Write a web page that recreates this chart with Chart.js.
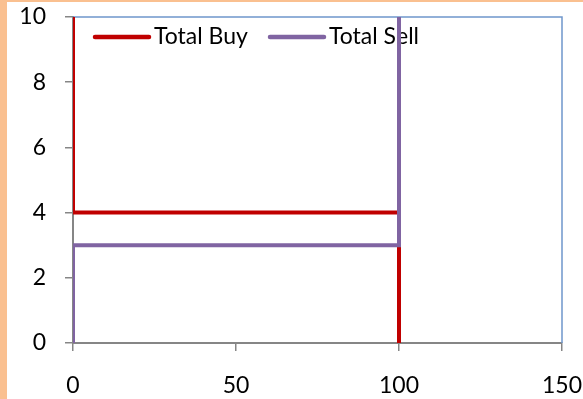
<!DOCTYPE html>
<html>
<head>
<meta charset="utf-8">
<script src="https://cdn.jsdelivr.net/npm/chart.js@4"></script>
<style>
  html, body { margin: 0; padding: 0; background: #fff; }
  canvas { display: block; }
</style>
</head>
<body>
<canvas id="grafico" width="583" height="399"></canvas>
<script>
// dados
const series = ['Total Buy', 'Total Sell'];
const buyX = [0, 0, 100, 100];
const buyY = [10, 4, 4, 0];
const sellX = [0, 0, 100, 100];
const sellY = [0, 3, 3, 10];
const xTicks = [0, 50, 100, 150];
const yTicks = [0, 2, 4, 6, 8, 10];

const cores = ['#c00000', '#8064a2'];
const fonte = { family: 'Lato', size: 23 };

// moldura laranja + borda azul do plot + legenda dentro do plot
const moldura = {
    id: 'moldura',
    beforeDraw(chart) {
        const c = chart.ctx;
        c.save();
        c.fillStyle = '#fff';
        c.fillRect(0, 0, chart.width, chart.height);
        c.fillStyle = '#fac090';
        c.fillRect(0, 0, 7, chart.height);
        c.fillRect(0, 0, chart.width, 2);
        c.restore();
    },
    beforeDatasetsDraw(chart) {
        const c = chart.ctx;
        const a = chart.chartArea;
        c.save();
        c.strokeStyle = '#6f97cc';
        c.lineWidth = 1.5;
        c.beginPath();
        c.moveTo(a.left, a.top);
        c.lineTo(a.right, a.top);
        c.lineTo(a.right, a.bottom);
        c.stroke();

        // legenda
        const posicoes = [a.left + 22, a.left + 197];
        const y = a.top + 20;
        c.font = fonte.size + 'px ' + fonte.family;
        c.fillStyle = '#000';
        c.textBaseline = 'middle';
        chart.data.datasets.forEach((ds, i) => {
            const x = posicoes[i];
            c.strokeStyle = ds.borderColor;
            c.lineWidth = 4.5;
            c.lineCap = 'round';
            c.beginPath();
            c.moveTo(x, y);
            c.lineTo(x + 54, y);
            c.stroke();
            c.fillText(ds.label, x + 59, y);
        });
        c.restore();
    }
};

// tira o padding extra que o Chart.js cria por causa dos rotulos
function semPadding(scale) {
    scale.paddingLeft = 0;
    scale.paddingRight = 0;
    scale.paddingTop = 0;
    scale.paddingBottom = 0;
}

const ctx = document.getElementById('grafico').getContext('2d');

new Chart(ctx, {
    type: 'scatter',
    data: {
        datasets: [
            {
                label: series[0],
                data: buyX.map((x, i) => ({ x: x, y: buyY[i] })),
                borderColor: cores[0],
                order: 1
            },
            {
                label: series[1],
                data: sellX.map((x, i) => ({ x: x, y: sellY[i] })),
                borderColor: cores[1],
                order: 0
            }
        ]
    },
    options: {
        responsive: false,
        animation: false,
        devicePixelRatio: 1,
        layout: { padding: { left: 0, top: 17, right: 21, bottom: 0 } },
        datasets: {
            scatter: {
                showLine: true,
                borderWidth: 4,
                pointRadius: 0,
                clip: 0
            }
        },
        plugins: {
            legend: { display: false },
            tooltip: { enabled: false }
        },
        scales: {
            x: {
                type: 'linear',
                min: xTicks[0],
                max: xTicks[xTicks.length - 1],
                afterBuildTicks: axis => { axis.ticks = xTicks.map(v => ({ value: v })); },
                afterFit: scale => { scale.height = 56; semPadding(scale); },
                grid: { drawOnChartArea: false, drawTicks: true, tickLength: 8, color: '#868686', lineWidth: 1.5 },
                border: { color: '#868686', width: 2 },
                ticks: { color: '#000', font: fonte, padding: 21, maxRotation: 0 }
            },
            y: {
                type: 'linear',
                min: yTicks[0],
                max: yTicks[yTicks.length - 1],
                afterBuildTicks: axis => { axis.ticks = yTicks.map(v => ({ value: v })); },
                afterFit: scale => { scale.width = 73; semPadding(scale); },
                grid: { drawOnChartArea: false, drawTicks: true, tickLength: 8, color: '#868686', lineWidth: 1.5 },
                border: { color: '#868686', width: 2 },
                ticks: { color: '#000', font: fonte, padding: 19 }
            }
        }
    },
    plugins: [moldura]
});
</script>
</body>
</html>
